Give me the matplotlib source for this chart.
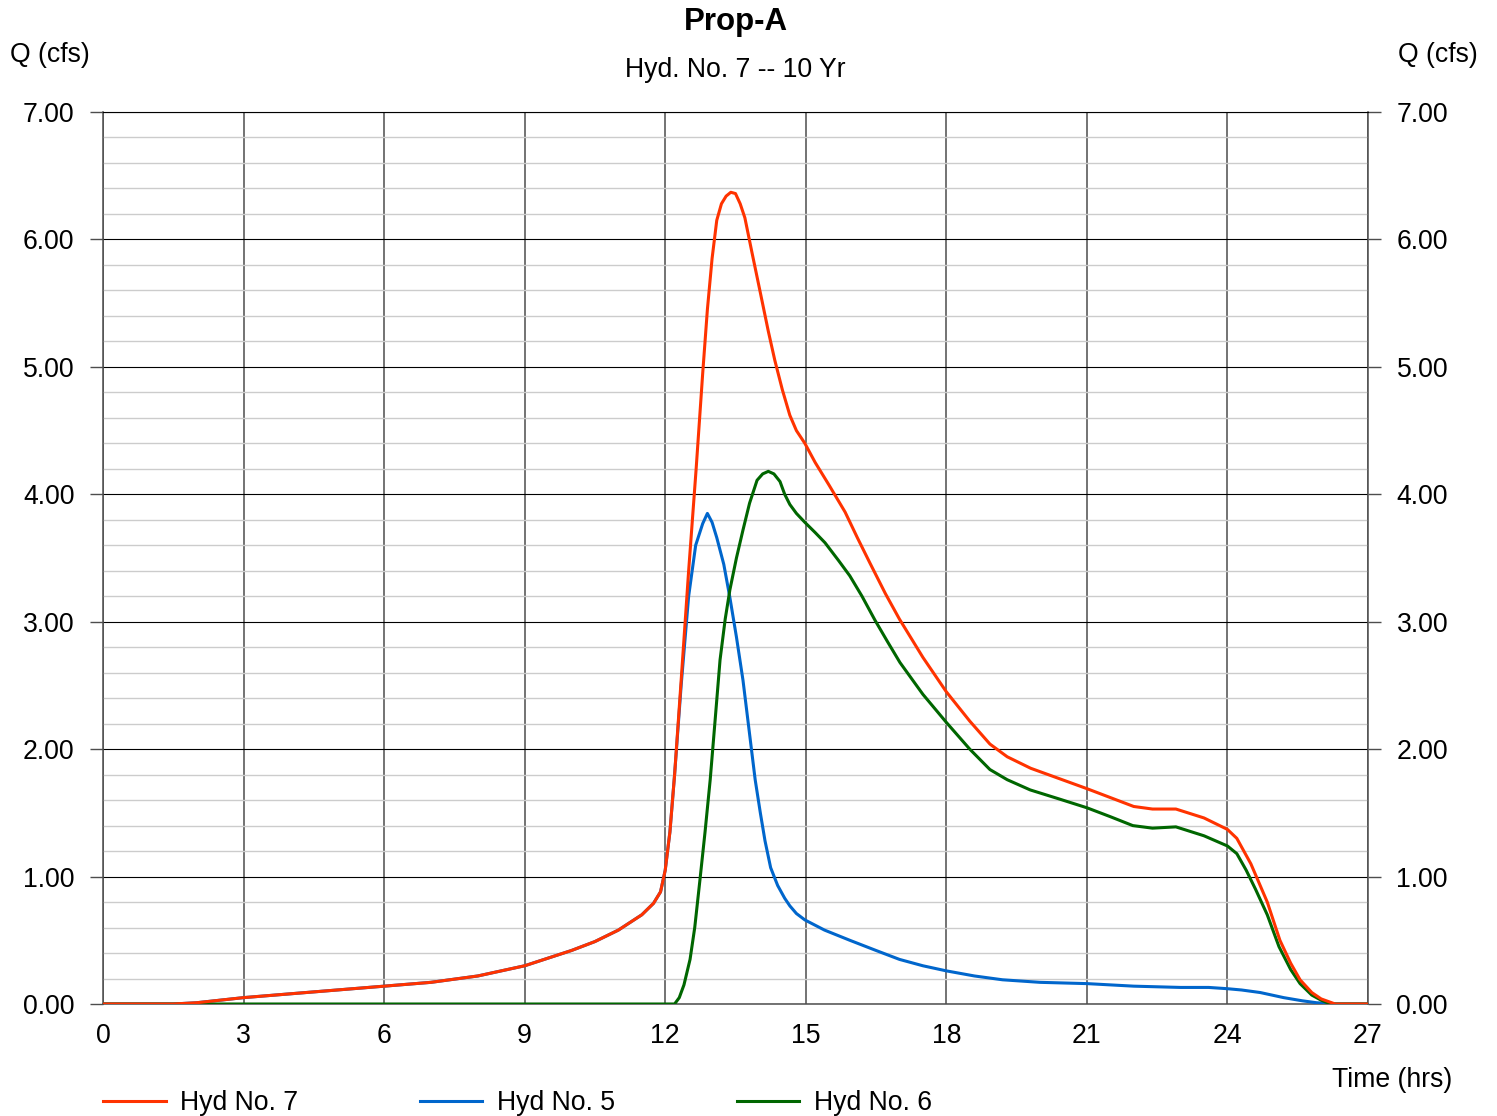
import matplotlib
matplotlib.use("Agg")
import matplotlib.pyplot as plt
from matplotlib.ticker import MultipleLocator, FormatStrFormatter

plt.rcParams['font.family'] = ['Liberation Sans', 'DejaVu Sans']

# Hyd No. 7 (combined)
t7 = [0, 1.5, 2, 3, 4, 5, 6, 7, 8, 9, 10, 10.5, 11, 11.5, 11.75, 11.9, 12.0, 12.1, 12.2,
      12.34, 12.5, 12.66, 12.8, 12.9, 13.0, 13.1, 13.2, 13.3, 13.4, 13.5, 13.6, 13.7,
      13.85, 14.02, 14.2, 14.34, 14.5, 14.66, 14.8, 14.98, 15.2, 15.5, 15.84, 16.1,
      16.37, 16.7, 17.0, 17.5, 18.0, 18.5, 18.93, 19.3, 19.8, 20.4, 21.0, 21.5, 22.0,
      22.4, 22.9, 23.5, 24.0, 24.2, 24.5, 24.85, 25.12, 25.35, 25.55, 25.8, 26.0, 26.3, 27]
q7 = [0, 0, 0.01, 0.05, 0.08, 0.11, 0.14, 0.17, 0.22, 0.30, 0.42, 0.49, 0.58, 0.70, 0.79,
      0.88, 1.05, 1.35, 1.80, 2.54, 3.40, 4.20, 4.95, 5.45, 5.85, 6.15, 6.28, 6.34, 6.37,
      6.36, 6.28, 6.17, 5.90, 5.60, 5.28, 5.05, 4.82, 4.62, 4.50, 4.40, 4.25, 4.07, 3.86,
      3.66, 3.46, 3.22, 3.02, 2.72, 2.45, 2.22, 2.04, 1.94, 1.85, 1.77, 1.69, 1.62, 1.55,
      1.53, 1.53, 1.46, 1.37, 1.30, 1.10, 0.80, 0.50, 0.32, 0.19, 0.09, 0.04, 0.0, 0]

# Hyd No. 5
t5 = [0, 1.5, 2, 3, 4, 5, 6, 7, 8, 9, 10, 10.5, 11, 11.5, 11.75, 11.9, 12.0, 12.1, 12.2,
      12.34, 12.5, 12.65, 12.8, 12.9, 13.0, 13.1, 13.25, 13.38, 13.52, 13.66, 13.8,
      13.92, 14.03, 14.13, 14.25, 14.4, 14.55, 14.66, 14.8, 14.98, 15.4, 15.94, 16.5,
      17.0, 17.5, 18.0, 18.6, 19.2, 20.0, 21.0, 22.0, 23.0, 23.6, 24.0, 24.3, 24.7,
      25.2, 25.6, 25.9, 26.3, 27]
q5 = [0, 0, 0.01, 0.05, 0.08, 0.11, 0.14, 0.17, 0.22, 0.30, 0.42, 0.49, 0.58, 0.70, 0.79,
      0.88, 1.05, 1.35, 1.80, 2.50, 3.20, 3.60, 3.77, 3.85, 3.78, 3.66, 3.45, 3.19, 2.88,
      2.54, 2.12, 1.76, 1.50, 1.28, 1.07, 0.93, 0.83, 0.77, 0.71, 0.66, 0.58, 0.50, 0.42,
      0.35, 0.30, 0.26, 0.22, 0.19, 0.17, 0.16, 0.14, 0.13, 0.13, 0.12, 0.11, 0.09, 0.05,
      0.025, 0.01, 0, 0]

# Hyd No. 6
t6 = [0, 12.2, 12.3, 12.4, 12.53, 12.63, 12.74, 12.85, 12.96, 13.07, 13.17, 13.28, 13.38,
      13.52, 13.66, 13.8, 13.96, 14.08, 14.2, 14.32, 14.45, 14.55, 14.66, 14.8, 14.98,
      15.2, 15.41, 15.7, 15.94, 16.2, 16.48, 16.75, 17.01, 17.5, 18.0, 18.5, 18.93, 19.3,
      19.79, 20.4, 21.0, 21.5, 21.98, 22.4, 22.9, 23.5, 24.0, 24.2, 24.4, 24.6, 24.85,
      25.1, 25.35, 25.55, 25.8, 26.0, 26.2, 27]
q6 = [0, 0, 0.05, 0.15, 0.35, 0.60, 0.97, 1.35, 1.76, 2.25, 2.70, 3.02, 3.25, 3.50, 3.72,
      3.93, 4.11, 4.16, 4.18, 4.16, 4.10, 4.00, 3.92, 3.85, 3.78, 3.70, 3.62, 3.48, 3.36,
      3.20, 3.01, 2.84, 2.68, 2.43, 2.21, 2.00, 1.84, 1.76, 1.68, 1.61, 1.54, 1.47, 1.40,
      1.38, 1.39, 1.32, 1.24, 1.18, 1.05, 0.90, 0.70, 0.45, 0.27, 0.16, 0.07, 0.03, 0.0, 0]

fs = 19.2

fig = plt.figure(figsize=(14.97, 11.16), dpi=100)
ax = fig.add_axes([103 / 1497, 1 - 1004 / 1116, 1265 / 1497, 892 / 1116])

l5, = ax.plot(t5, q5, color='#0066CC', lw=2.2, label='Hyd No. 5', zorder=3)
l6, = ax.plot(t6, q6, color='#006600', lw=2.2, label='Hyd No. 6', zorder=4)
l7, = ax.plot(t7, q7, color='#FF3300', lw=2.2, label='Hyd No. 7', zorder=5)

ax.set_xlim(0, 27)
ax.set_ylim(0, 7)
ax.xaxis.set_major_locator(MultipleLocator(3))
ax.yaxis.set_major_locator(MultipleLocator(1))
ax.yaxis.set_minor_locator(MultipleLocator(0.2))
ax.yaxis.set_major_formatter(FormatStrFormatter('%.2f'))

ax.grid(which='major', axis='y', color='#000000', lw=0.8, zorder=1)
ax.grid(which='major', axis='x', color='#4d4d4d', lw=1.1, zorder=1)
ax.grid(which='minor', axis='y', color='#cccccc', lw=1.0, zorder=0)
ax.set_axisbelow(True)

for side in ['left', 'right']:
    ax.spines[side].set_color('#4d4d4d')
    ax.spines[side].set_linewidth(1.1)
ax.spines['top'].set_color('#000000')
ax.spines['top'].set_linewidth(0.8)
ax.spines['bottom'].set_color('#4d4d4d')
ax.spines['bottom'].set_linewidth(1.1)

ax.tick_params(axis='y', which='major', left=True, right=True, labelleft=True,
               labelright=True, length=9.5, width=1, color='#4d4d4d', pad=9,
               labelsize=fs)
ax.tick_params(axis='y', which='major', labelright=True, pad=11)
ax.tick_params(axis='y', which='minor', length=0)
ax.tick_params(axis='x', length=0, pad=14, labelsize=fs)
for lab in ax.get_yticklabels():
    pass

fig.text(735.5 / 1497, 1 - 22 / 1116, 'Prop-A', ha='center', va='center',
         fontsize=22.5, fontweight='bold')
fig.text(735.5 / 1497, 1 - 70 / 1116, 'Hyd. No. 7 -- 10 Yr', ha='center',
         va='center', fontsize=fs)
fig.text(10 / 1497, 1 - 55 / 1116, 'Q (cfs)', ha='left', va='center', fontsize=fs)
fig.text(1478 / 1497, 1 - 55 / 1116, 'Q (cfs)', ha='right', va='center', fontsize=fs)
fig.text(1452 / 1497, 1 - 1080 / 1116, 'Time (hrs)', ha='right', va='center',
         fontsize=fs)

fig.legend(handles=[l7, l5, l6], loc='center left',
           bbox_to_anchor=(103 / 1497, 1 - 1103 / 1116), ncol=3, frameon=False,
           fontsize=fs, handlelength=2.35, handletextpad=0.55, columnspacing=4.55,
           borderpad=0, borderaxespad=0)

fig.savefig('out.png', dpi=100)
